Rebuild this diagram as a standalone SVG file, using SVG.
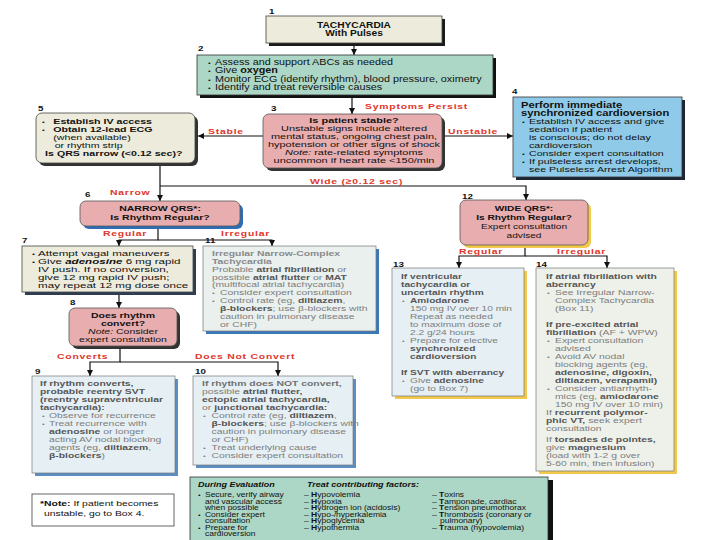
<svg xmlns="http://www.w3.org/2000/svg" width="720" height="540" viewBox="0 0 720 540">
<defs>
<marker id="ah" viewBox="0 0 6 6" refX="6" refY="3" markerWidth="6" markerHeight="6" markerUnits="userSpaceOnUse" orient="auto">
<path d="M0,0 L6,3 L0,6 z" fill="#111"/>
</marker>
</defs>
<style>
.tx{font-family:"Liberation Sans",Arial,Helvetica,sans-serif;fill:#111}
.gr{fill:#7d7d7d}
.b{font-weight:bold}
.gb{font-weight:bold;fill:#565656}
.i{font-style:italic}
.bu{font-size:6px}
.lbl{font-family:"Liberation Sans",Arial,sans-serif;font-weight:bold;font-size:8px;fill:#e0362a;letter-spacing:0.6px}
.num{font-family:"Liberation Sans",Arial,sans-serif;font-weight:bold;font-size:7.5px;fill:#111}
.ln{fill:none;stroke:#111;stroke-width:1.2}
.beige{fill:#ecebdc;stroke:#444;stroke-width:0.8}
.green{fill:#acd6c5;stroke:#333;stroke-width:0.8}
.pink{fill:#e7adaf;stroke:#555;stroke-width:0.8}
.blue{fill:#8fcbe8;stroke:#333;stroke-width:0.8}
.pale{fill:#e6f0f4;stroke:#777;stroke-width:0.7}
.pale2{fill:#e9f0ee;stroke:#777;stroke-width:0.7}
.pale3{fill:#eef1ea;stroke:#777;stroke-width:0.7}
</style>
<rect width="720" height="540" fill="#fff"/>

<g id="connectors">
<path class="ln" d="M354,43 V55" marker-end="url(#ah)"/>
<path class="ln" d="M352,95 V114" marker-end="url(#ah)"/>
<path class="ln" d="M263,136 H198" marker-end="url(#ah)"/>
<path class="ln" d="M445,136 H513" marker-end="url(#ah)"/>
<path class="ln" d="M160,163 V201" marker-end="url(#ah)"/>
<path class="ln" d="M160,186 H526 V200" marker-end="url(#ah)"/>
<path class="ln" d="M158,226 V240 H119 V246" marker-end="url(#ah)"/>
<path class="ln" d="M158,240 H272 V246" marker-end="url(#ah)"/>
<path class="ln" d="M119,292 V308" marker-end="url(#ah)"/>
<path class="ln" d="M120,346 V362 H90 V376" marker-end="url(#ah)"/>
<path class="ln" d="M120,362 H278 V376" marker-end="url(#ah)"/>
<path class="ln" d="M525,245 V256 H459 V268" marker-end="url(#ah)"/>
<path class="ln" d="M525,256 H607 V268" marker-end="url(#ah)"/>
<text class="lbl" transform="translate(365,109) scale(1.3,1)">Symptoms Persist</text>
<text class="lbl" transform="translate(208,134) scale(1.3,1)">Stable</text>
<text class="lbl" transform="translate(448,134) scale(1.3,1)">Unstable</text>
<text class="lbl" transform="translate(310,183.5) scale(1.3,1)">Wide (≥0.12 sec)</text>
<text class="lbl" transform="translate(110,195) scale(1.3,1)">Narrow</text>
<text class="lbl" transform="translate(103,236) scale(1.3,1)">Regular</text>
<text class="lbl" transform="translate(221,236) scale(1.3,1)">Irregular</text>
<text class="lbl" transform="translate(57,358.5) scale(1.3,1)">Converts</text>
<text class="lbl" transform="translate(195,358.5) scale(1.3,1)">Does Not Convert</text>
<text class="lbl" transform="translate(459,253.5) scale(1.3,1)">Regular</text>
<text class="lbl" transform="translate(557,253.5) scale(1.3,1)">Irregular</text>
</g>

<g id="n1">
<rect x="269" y="19" width="176" height="27" fill="#1a1a1a"/>
<rect class="beige" x="266" y="16" width="176" height="27"/>
<g class="tx b" font-size="8.5" text-anchor="middle" transform="translate(354,0) scale(1.2,1)">
<text x="0" y="28">TACHYCARDIA</text>
<text x="0" y="36.5">With Pulses</text>
</g>
<text class="num" transform="translate(269,14) scale(1.3,1)">1</text>
</g>

<g id="n2">
<rect x="200" y="58" width="296" height="40" fill="#111"/>
<rect class="green" x="197" y="55" width="296" height="40"/>
<g class="tx" font-size="8.5" transform="translate(208,0) scale(1.27,1)">
<text y="65"><tspan x="0" class="bu">•</tspan><tspan x="5.5">Assess and support ABCs as needed</tspan></text>
<text y="73.5"><tspan x="0" class="bu">•</tspan><tspan x="5.5">Give </tspan><tspan class="b">oxygen</tspan></text>
<text y="82"><tspan x="0" class="bu">•</tspan><tspan x="5.5">Monitor ECG (identify rhythm), blood pressure, oximetry</tspan></text>
<text y="90.5"><tspan x="0" class="bu">•</tspan><tspan x="5.5">Identify and treat reversible causes</tspan></text>
</g>
<text class="num" transform="translate(198,51) scale(1.3,1)">2</text>
</g>

<g id="n3">
<rect x="266" y="117" width="179" height="54" rx="6" fill="#333"/>
<rect class="pink" x="263" y="114" width="179" height="54" rx="6"/>
<g class="tx" font-size="7.3" text-anchor="middle" transform="translate(354,0) scale(1.5,1)">
<text x="0" y="123.5" class="b">Is patient stable?</text>
<text x="0" y="131.5">Unstable signs include altered</text>
<text x="0" y="139.5">mental status, ongoing chest pain,</text>
<text x="0" y="147.5">hypotension or other signs of shock</text>
<text x="0" y="155.5"><tspan class="i">Note:</tspan> rate-related symptoms</text>
<text x="0" y="163.5">uncommon if heart rate &lt;150/min</text>
</g>
<text class="num" transform="translate(271,110.5) scale(1.3,1)">3</text>
</g>

<g id="n4">
<rect x="516" y="100" width="169" height="80" fill="#1e2636"/>
<rect class="blue" x="513" y="97" width="169" height="80"/>
<g class="tx" font-size="8" transform="translate(521,0) scale(1.33,1)">
<text x="0" y="108" class="b" font-size="8.4">Perform immediate</text>
<text x="0" y="116" class="b" font-size="8.4">synchronized cardioversion</text>
<text y="124"><tspan x="0.7" class="bu">•</tspan><tspan x="6">Establish IV access and give</tspan></text>
<text x="6" y="132">sedation if patient</text>
<text x="6" y="140">is conscious; do not delay</text>
<text x="6" y="148">cardioversion</text>
<text y="156"><tspan x="0.7" class="bu">•</tspan><tspan x="6">Consider expert consultation</tspan></text>
<text y="164"><tspan x="0.7" class="bu">•</tspan><tspan x="6">If pulseless arrest develops,</tspan></text>
<text x="6" y="172">see Pulseless Arrest Algorithm</text>
</g>
<text class="num" transform="translate(512,94) scale(1.3,1)">4</text>
</g>

<g id="n5">
<rect x="39" y="116" width="159" height="50" rx="6" fill="#333"/>
<rect class="beige" x="36" y="113" width="159" height="50" rx="6"/>
<g class="tx" font-size="8" transform="translate(42,0) scale(1.33,1)">
<text y="124"><tspan x="0" class="bu">•</tspan><tspan x="8.5" class="b">Establish IV access</tspan></text>
<text y="132"><tspan x="0" class="bu">•</tspan><tspan x="8.5" class="b">Obtain 12-lead ECG</tspan></text>
<text x="8.5" y="140">(when available)</text>
<text x="9.5" y="148">or rhythm strip</text>
<text x="2.3" y="156" class="b">Is QRS narrow (&lt;0.12 sec)?</text>
</g>
<text class="num" transform="translate(38,111) scale(1.3,1)">5</text>
</g>

<g id="n6">
<rect x="83" y="204" width="160" height="25" rx="6" fill="#2e6db4"/>
<rect class="pink" x="80" y="201" width="160" height="25" rx="6"/>
<g class="tx b" font-size="7.8" text-anchor="middle" transform="translate(160,0) scale(1.35,1)">
<text x="0" y="211">NARROW QRS*:</text>
<text x="0" y="220.5">Is Rhythm Regular?</text>
</g>
<text class="num" transform="translate(85,197) scale(1.3,1)">6</text>
</g>

<g id="n7">
<rect x="25" y="249" width="171" height="46" fill="#2f3d52"/>
<rect class="beige" x="22" y="246" width="171" height="46"/>
<g class="tx" font-size="8" transform="translate(32,0) scale(1.45,1)">
<text y="256"><tspan x="0" class="bu">•</tspan><tspan x="4.2">Attempt vagal maneuvers</tspan></text>
<text y="264"><tspan x="0" class="bu">•</tspan><tspan x="4.2">Give </tspan><tspan class="b i">adenosine</tspan><tspan> 6 mg rapid</tspan></text>
<text x="4.2" y="272">IV push. If no conversion,</text>
<text x="4.2" y="280">give 12 mg rapid IV push;</text>
<text x="4.2" y="288">may repeat 12 mg dose once</text>
</g>
<text class="num" transform="translate(22,243) scale(1.3,1)">7</text>
</g>

<g id="n8">
<rect x="72" y="311" width="108" height="38" rx="6" fill="#333"/>
<rect class="pink" x="69" y="308" width="108" height="38" rx="6"/>
<g class="tx" font-size="8" text-anchor="middle" transform="translate(123,0) scale(1.31,1)">
<text x="0" y="318.5" class="b">Does rhythm</text>
<text x="0" y="326" class="b">convert?</text>
<text x="0" y="334"><tspan class="i">Note:</tspan> Consider</text>
<text x="0" y="342">expert consultation</text>
</g>
<text class="num" transform="translate(70,305) scale(1.3,1)">8</text>
</g>

<g id="n11">
<rect x="206" y="249" width="173" height="85" fill="#3b78b8"/>
<rect class="pale2" x="203" y="246" width="173" height="85"/>
<g class="tx gr" font-size="8" transform="translate(212,0) scale(1.3,1)">
<text x="0" y="256" class="gb" style="fill:#8a8a8a">Irregular Narrow-Complex</text>
<text x="0" y="264" class="gb" style="fill:#8a8a8a">Tachycardia</text>
<text x="0" y="272">Probable <tspan class="gb">atrial fibrillation</tspan> or</text>
<text x="0" y="280">possible <tspan class="gb">atrial flutter</tspan> or <tspan class="gb">MAT</tspan></text>
<text x="0" y="287.5">(multifocal atrial tachycardia)</text>
<text y="295.5"><tspan x="0" class="bu">•</tspan><tspan x="6.2">Consider expert consultation</tspan></text>
<text y="303.5"><tspan x="0" class="bu">•</tspan><tspan x="6.2">Control rate (eg, </tspan><tspan class="gb">diltiazem</tspan>,</text>
<text x="6.2" y="311.5"><tspan class="gb">β-blockers</tspan>; use β-blockers with</text>
<text x="6.2" y="319.5">caution in pulmonary disease</text>
<text x="6.2" y="327.5">or CHF)</text>
</g>
<text class="num" transform="translate(205,243) scale(1.3,1)">11</text>
</g>

<g id="n9">
<rect x="35" y="379" width="143" height="97" fill="#5b8fc4"/>
<rect class="pale" x="32" y="376" width="143" height="97"/>
<g class="tx gr" font-size="8" transform="translate(40,0) scale(1.3,1)">
<text x="0" y="386" class="gb">If rhythm converts,</text>
<text x="0" y="394" class="gb">probable reentry SVT</text>
<text x="0" y="402" class="gb">(reentry supraventricular</text>
<text x="0" y="410" class="gb">tachycardia):</text>
<text y="418"><tspan x="1.5" class="bu">•</tspan><tspan x="6.9">Observe for recurrence</tspan></text>
<text y="426"><tspan x="1.5" class="bu">•</tspan><tspan x="6.9">Treat recurrence with</tspan></text>
<text x="6.9" y="434"><tspan class="gb">adenosine</tspan> or longer</text>
<text x="6.9" y="442">acting AV nodal blocking</text>
<text x="6.9" y="450">agents (eg, <tspan class="gb">diltiazem</tspan>,</text>
<text x="6.9" y="458"><tspan class="gb">β-blockers</tspan>)</text>
</g>
<text class="num" transform="translate(35,373.5) scale(1.3,1)">9</text>
</g>

<g id="n10">
<rect x="196" y="379" width="160" height="89" fill="#5b8fc4"/>
<rect class="pale" x="193" y="376" width="160" height="89"/>
<g class="tx gr" font-size="8" transform="translate(202,0) scale(1.3,1)">
<text x="0" y="386" class="gb" style="fill:#707070">If rhythm does NOT convert,</text>
<text x="0" y="394">possible <tspan class="gb">atrial flutter,</tspan></text>
<text x="0" y="402" class="gb">ectopic atrial tachycardia,</text>
<text x="0" y="410">or <tspan class="gb">junctional tachycardia:</tspan></text>
<text y="418"><tspan x="0.8" class="bu">•</tspan><tspan x="7.3">Control rate (eg, </tspan><tspan class="gb">diltiazem</tspan>,</text>
<text x="7.3" y="426"><tspan class="gb">β-blockers</tspan>; use β-blockers with</text>
<text x="7.3" y="434">caution in pulmonary disease</text>
<text x="7.3" y="442">or CHF)</text>
<text y="450"><tspan x="0.8" class="bu">•</tspan><tspan x="7.3">Treat underlying cause</tspan></text>
<text y="458"><tspan x="0.8" class="bu">•</tspan><tspan x="7.3">Consider expert consultation</tspan></text>
</g>
<text class="num" transform="translate(195,373.5) scale(1.3,1)">10</text>
</g>

<g id="n12">
<rect x="463" y="203" width="128" height="45" rx="6" fill="#f2c94c"/>
<rect class="pink" x="460" y="200" width="128" height="45" rx="6"/>
<g class="tx" font-size="7.8" text-anchor="middle" transform="translate(524,0) scale(1.3,1)">
<text x="0" y="211" class="b">WIDE QRS*:</text>
<text x="0" y="220" class="b">Is Rhythm Regular?</text>
<text x="0" y="229">Expert consultation</text>
<text x="0" y="238">advised</text>
</g>
<text class="num" transform="translate(462,198.5) scale(1.3,1)">12</text>
</g>

<g id="n13">
<rect x="395" y="271" width="132" height="128" fill="#f2c94c"/>
<rect class="pale" x="392" y="268" width="132" height="128"/>
<g class="tx gr" font-size="8" transform="translate(401,0) scale(1.27,1)">
<text x="0" y="279" class="gb">If ventricular</text>
<text x="0" y="287" class="gb">tachycardia or</text>
<text x="0" y="295" class="gb">uncertain rhythm</text>
<text y="303"><tspan x="0.8" class="bu">•</tspan><tspan x="7.1" class="gb">Amiodarone</tspan></text>
<text x="7.1" y="311">150 mg IV over 10 min</text>
<text x="7.1" y="319">Repeat as needed</text>
<text x="7.1" y="327">to maximum dose of</text>
<text x="7.1" y="335">2.2 g/24 hours</text>
<text y="343"><tspan x="0.8" class="bu">•</tspan><tspan x="7.1">Prepare for elective</tspan></text>
<text x="7.1" y="351" class="gb">synchronized</text>
<text x="7.1" y="359" class="gb">cardioversion</text>
<text x="0" y="375" class="gb">If SVT with aberrancy</text>
<text y="383"><tspan x="0.8" class="bu">•</tspan><tspan x="7.1">Give </tspan><tspan class="gb">adenosine</tspan></text>
<text x="7.1" y="391">(go to Box 7)</text>
</g>
<text class="num" transform="translate(393,266.5) scale(1.3,1)">13</text>
</g>

<g id="n14">
<rect x="539" y="271" width="138" height="203" fill="#f2c94c"/>
<rect class="pale3" x="536" y="268" width="138" height="203"/>
<g class="tx gr" font-size="8" transform="translate(546,0) scale(1.3,1)">
<text x="0" y="279" class="gb">If atrial fibrillation with</text>
<text x="0" y="287" class="gb">aberrancy</text>
<text y="295"><tspan x="0.8" class="bu">•</tspan><tspan x="6.9">See Irregular Narrow-</tspan></text>
<text x="6.9" y="303">Complex Tachycardia</text>
<text x="6.9" y="311">(Box 11)</text>
<text x="0" y="327" class="gb">If pre-excited atrial</text>
<text x="0" y="335"><tspan class="gb">fibrillation</tspan> (AF + WPW)</text>
<text y="343"><tspan x="0.8" class="bu">•</tspan><tspan x="6.9">Expert consultation</tspan></text>
<text x="6.9" y="351">advised</text>
<text y="359"><tspan x="0.8" class="bu">•</tspan><tspan x="6.9">Avoid AV nodal</tspan></text>
<text x="6.9" y="367">blocking agents (eg,</text>
<text x="6.9" y="375" class="gb">adenosine, digoxin,</text>
<text x="6.9" y="383" class="gb">diltiazem, verapamil)</text>
<text y="391"><tspan x="0.8" class="bu">•</tspan><tspan x="6.9">Consider antiarrhyth-</tspan></text>
<text x="6.9" y="399">mics (eg, <tspan class="gb">amiodarone</tspan></text>
<text x="6.9" y="407">150 mg IV over 10 min)</text>
<text x="0" y="415">If <tspan class="gb">recurrent polymor-</tspan></text>
<text x="0" y="423"><tspan class="gb">phic VT,</tspan> seek expert</text>
<text x="0" y="431">consultation</text>
<text x="0" y="442">If <tspan class="gb">torsades de pointes,</tspan></text>
<text x="0" y="450">give <tspan class="gb">magnesium</tspan></text>
<text x="0" y="458">(load with 1-2 g over</text>
<text x="0" y="466">5-60 min, then infusion)</text>
</g>
<text class="num" transform="translate(536,266.5) scale(1.3,1)">14</text>
</g>

<g id="note">
<rect x="32" y="494" width="142" height="32" fill="#fff" stroke="#555" stroke-width="0.9"/>
<g class="tx" font-size="8" transform="translate(40,0) scale(1.3,1)">
<text x="0" y="506"><tspan class="b">*Note:</tspan> If patient becomes</text>
<text x="3" y="516">unstable, go to Box 4.</text>
</g>
</g>

<g id="evaluation">
<rect x="548" y="480" width="5" height="62" fill="#111"/>
<rect class="green" x="190" y="477" width="358" height="70"/>
<g class="tx" font-size="6.8" transform="translate(198,0) scale(1.25,1)">
<text x="0" y="487.5" class="b i" font-size="7.2">During Evaluation</text>
<text x="87.2" y="487.5" class="b i" font-size="7.2">Treat contributing factors:</text>
<text y="497.5"><tspan x="0" class="bu">•</tspan><tspan x="5.6">Secure, verify airway</tspan></text>
<text x="5.6" y="504">and vascular access</text>
<text x="5.6" y="510.5">when possible</text>
<text y="517"><tspan x="0" class="bu">•</tspan><tspan x="5.6">Consider expert</tspan></text>
<text x="5.6" y="523.5">consultation</text>
<text y="530"><tspan x="0" class="bu">•</tspan><tspan x="5.6">Prepare for</tspan></text>
<text x="5.6" y="536.5">cardioversion</text>
<text x="84.8" y="497.5">– <tspan class="b">H</tspan>ypovolemia</text>
<text x="84.8" y="504">– <tspan class="b">H</tspan>ypoxia</text>
<text x="84.8" y="510.5">– <tspan class="b">H</tspan>ydrogen ion (acidosis)</text>
<text x="84.8" y="517">– <tspan class="b">H</tspan>ypo-/hyperkalemia</text>
<text x="84.8" y="523.5">– <tspan class="b">H</tspan>ypoglycemia</text>
<text x="84.8" y="530">– <tspan class="b">H</tspan>ypothermia</text>
<text x="187.2" y="497.5">– <tspan class="b">T</tspan>oxins</text>
<text x="187.2" y="504">– <tspan class="b">T</tspan>amponade, cardiac</text>
<text x="187.2" y="510.5">– <tspan class="b">T</tspan>ension pneumothorax</text>
<text x="187.2" y="517">– <tspan class="b">T</tspan>hrombosis (coronary or</text>
<text x="193.6" y="523.5">pulmonary)</text>
<text x="187.2" y="530">– <tspan class="b">T</tspan>rauma (hypovolemia)</text>
</g>
</g>
</svg>
